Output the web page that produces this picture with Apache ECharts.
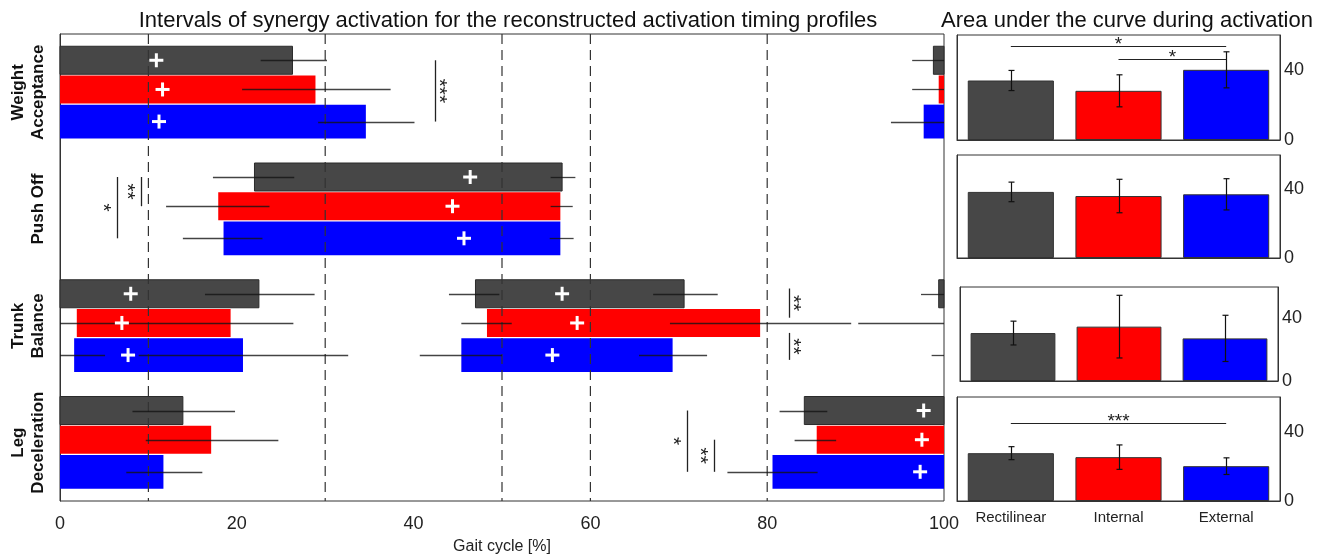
<!DOCTYPE html>
<html>
<head>
<meta charset="utf-8">
<script src="https://cdn.jsdelivr.net/npm/echarts@6/dist/echarts.min.js"></script>
<style>html,body{margin:0;padding:0;background:#fff}#c{width:1325px;height:560px}</style>
</head>
<body>
<div id="c"></div>
<script>
// ---------------- DATA ----------------
const groups = ['Weight\nAcceptance', 'Push Off', 'Trunk\nBalance', 'Leg\nDeceleration'];
const conditions = ['Rectilinear', 'Internal', 'External'];
const xTicks = [0, 20, 40, 60, 80, 100];
const dashedAt = [10, 30, 50, 60, 80];

// activation intervals [group, start %, end %]
const rectilinearBars = [[0,0,26.3],[0,98.8,100],[1,22.0,56.8],[2,0,22.5],[2,47.0,70.6],[2,99.4,100],[3,0,13.9],[3,84.2,100]];
const internalBars    = [[0,0,28.9],[0,99.4,100],[1,17.9,56.6],[2,1.9,19.3],[2,48.3,79.2],[3,0,17.1],[3,85.6,100]];
const externalBars    = [[0,0,34.6],[0,97.7,100],[1,18.5,56.6],[2,1.6,20.7],[2,45.4,69.3],[3,0,11.7],[3,80.6,100]];

// onset / offset variability lines [group, from %, to %]
const rectilinearErr = [[0,22.7,30.2],[0,96.4,100],[1,17.3,26.5],[1,55.5,58.3],[2,16.4,28.8],[2,44.0,49.7],[2,67.1,74.4],[2,97.4,100],[3,8.2,19.8],[3,81.4,86.8]];
const internalErr    = [[0,20.6,37.4],[0,96.4,100],[1,12.0,23.7],[1,55.5,58.0],[2,0,26.4],[2,45.4,51.1],[2,69.0,89.5],[2,90.3,100],[3,9.7,24.7],[3,83.1,87.8]];
const externalErr    = [[0,29.2,40.1],[0,94.0,100],[1,13.9,22.9],[1,55.4,58.1],[2,0,5.1],[2,8.9,32.6],[2,40.7,50.0],[2,65.5,73.2],[2,98.6,100],[3,7.5,16.1],[3,75.5,85.7]];

// centre-of-activity markers [group, %]
const rectilinearMarks = [[0,10.9],[1,46.4],[2,8.0],[2,56.8],[3,97.7]];
const internalMarks    = [[0,11.6],[1,44.4],[2,7.0],[2,58.5],[3,97.5]];
const externalMarks    = [[0,11.2],[1,45.7],[2,7.7],[2,55.7],[3,97.3]];

// significance in the timing plot [group, %, fromCondition, toCondition, label, side]
const timingSignif = [
  [0, 42.4, 0, 2, '***', 1],
  [1, 6.5, 0, 2, '*', -1],
  [1, 9.2, 0, 1, '**', -1],
  [2, 82.5, -0.18, 0.82, '**', 1],
  [2, 82.5, 1.31, 2.15, '**', 1],
  [3, 70.9, 0, 2, '*', -1],
  [3, 74.0, 1, 2, '**', -1]
];

// area under the curve (mean, sd) per synergy, order: Rectilinear, Internal, External
const aucWeightAcceptance = [34.0, 28.1, 40.1];
const sdWeightAcceptance  = [5.75, 9.15, 10.3];
const aucPushOff          = [38.5, 36.1, 37.1];
const sdPushOff           = [5.7, 9.75, 9.1];
const aucTrunkBalance     = [30.6, 34.7, 27.2];
const sdTrunkBalance      = [7.6, 20.0, 14.75];
const aucLegDeceleration  = [27.6, 25.3, 20.1];
const sdLegDeceleration   = [3.75, 7.05, 4.8];
const aucTicks = [0, 20, 40, 60];
const aucLabelled = [0, 40];
// significance in area panels [panel, fromCondition, toCondition, value, label]
const aucSignif = [[0, 0, 2, 53.8, '*'], [0, 1, 1.89, 46.2, '*'], [3, 0, 2, 45.0, '***']];

// ---------------- STYLE ----------------
const colors = ['#474747', '#ff0000', '#0000ff'];
const laneBox = [[0.105, 0.345], [0.355, 0.595], [0.605, 0.895]];
const FONT = 'Liberation Sans';
function laneFrac(l) { return l <= 1 ? 0.225 + l * 0.25 : 0.475 + (l - 1) * 0.275; }
function laneMidFrac(l) { return (laneBox[l][0] + laneBox[l][1]) / 2; }

const chart = echarts.init(document.getElementById('c'), null, {renderer: 'canvas'});

const panels = [
  {left: 957, top: 35, width: 323, height: 105},
  {left: 957, top: 155, width: 323, height: 103},
  {left: 960, top: 287, width: 318, height: 94},
  {left: 957, top: 397, width: 323, height: 104}
];
const aucMeans = [aucWeightAcceptance, aucPushOff, aucTrunkBalance, aucLegDeceleration];
const aucSds = [sdWeightAcceptance, sdPushOff, sdTrunkBalance, sdLegDeceleration];

const grids = [{left: 60, top: 34, width: 884, height: 468, show: true, borderColor: '#333', borderWidth: 1, containLabel: false}];
panels.forEach(p => grids.push(Object.assign({show: true, borderColor: '#333', borderWidth: 1}, p)));

const xAxes = [
  {type: 'value', gridIndex: 0, min: 0, max: 100, interval: 10, position: 'bottom',
   axisLine: {lineStyle: {color: '#333'}}, axisTick: {inside: true, length: 8, lineStyle: {color: '#333'}},
   splitLine: {show: false},
   axisLabel: {fontFamily: FONT, fontSize: 18, color: '#222', margin: 14, formatter: v => xTicks.indexOf(v) >= 0 ? String(v) : ''},
   name: 'Gait cycle [%]', nameLocation: 'middle', nameGap: 38, nameTextStyle: {fontFamily: FONT, fontSize: 16, color: '#222'}},
  {type: 'value', gridIndex: 0, min: 0, max: 100, interval: 10, position: 'top',
   axisLine: {lineStyle: {color: '#333'}}, axisTick: {inside: true, length: 8, lineStyle: {color: '#333'}},
   splitLine: {show: false}, axisLabel: {show: false}}
];
panels.forEach((p, i) => xAxes.push({
  type: 'category', gridIndex: i + 1, data: conditions,
  axisLine: {lineStyle: {color: '#333'}}, axisTick: {show: false},
  axisLabel: {show: i === 3, interval: 0, fontFamily: FONT, fontSize: 15, color: '#222', margin: 9}
}));

const yAxes = [{
  type: 'category', gridIndex: 0, data: groups, inverse: true,
  axisLine: {lineStyle: {color: '#333'}}, axisTick: {show: false},
  axisLabel: {interval: 0, rotate: 90, fontFamily: FONT, fontWeight: 'bold', fontSize: 17, lineHeight: 20, color: '#111', margin: 12}
}];
panels.forEach((p, i) => yAxes.push({
  type: 'value', gridIndex: i + 1, position: 'right', min: 0, max: 60, interval: 20,
  axisLine: {show: true, lineStyle: {color: '#333'}}, axisTick: {inside: true, length: 5, lineStyle: {color: '#333'}},
  splitLine: {show: false},
  axisLabel: {fontFamily: FONT, fontSize: 18, color: '#222', margin: 4, formatter: v => aucLabelled.indexOf(v) >= 0 ? String(v) : ''}
}));
panels.forEach((p, i) => yAxes.push({
  type: 'value', gridIndex: i + 1, position: 'left', min: 0, max: 60, interval: 20,
  axisLine: {show: true, lineStyle: {color: '#333'}}, axisTick: {inside: true, length: 5, lineStyle: {color: '#333'}},
  splitLine: {show: false}, axisLabel: {show: false}
}));

const series = [];
const barSets = [rectilinearBars, internalBars, externalBars];
const errSets = [rectilinearErr, internalErr, externalErr];
const markSets = [rectilinearMarks, internalMarks, externalMarks];

barSets.forEach((set, lane) => series.push({
  type: 'custom', name: conditions[lane], xAxisIndex: 0, yAxisIndex: 0, z: 2,
  encode: {x: [1, 2], y: 0}, data: set,
  renderItem: (params, api) => {
    const g = api.value(0);
    const p0 = api.coord([api.value(1), g]);
    const p1 = api.coord([api.value(2), g]);
    const band = api.size([0, 1])[1];
    const top = p0[1] - band / 2 + band * laneBox[lane][0];
    return {type: 'rect', shape: {x: p0[0], y: top, width: p1[0] - p0[0], height: band * (laneBox[lane][1] - laneBox[lane][0])},
      style: {fill: colors[lane], stroke: lane === 0 ? '#2b2b2b' : null, lineWidth: 1}};
  }
}));

series.push({
  type: 'custom', xAxisIndex: 0, yAxisIndex: 0, z: 3,
  encode: {x: 0, y: 1}, data: dashedAt.map(v => [v, 0]),
  renderItem: (params, api) => {
    const cs = params.coordSys;
    const x = api.coord([api.value(0), 0])[0];
    return {type: 'line', shape: {x1: x, y1: cs.y, x2: x, y2: cs.y + cs.height},
      style: {stroke: '#333', lineWidth: 1.2, lineDash: [10, 6]}};
  }
});

errSets.forEach((set, lane) => series.push({
  type: 'custom', xAxisIndex: 0, yAxisIndex: 0, z: 4,
  encode: {x: [1, 2], y: 0}, data: set,
  renderItem: (params, api) => {
    const g = api.value(0);
    const p0 = api.coord([api.value(1), g]);
    const p1 = api.coord([api.value(2), g]);
    const band = api.size([0, 1])[1];
    const y = Math.round(p0[1] - band / 2 + band * laneMidFrac(lane)) + 0.5;
    return {type: 'line', shape: {x1: p0[0], y1: y, x2: p1[0], y2: y},
      style: {stroke: 'rgba(20,20,20,0.8)', lineWidth: 1.3}};
  }
}));

markSets.forEach((set, lane) => series.push({
  type: 'custom', xAxisIndex: 0, yAxisIndex: 0, z: 6,
  encode: {x: 1, y: 0}, data: set,
  renderItem: (params, api) => {
    const g = api.value(0);
    const p = api.coord([api.value(1), g]);
    const band = api.size([0, 1])[1];
    const y = p[1] - band / 2 + band * laneMidFrac(lane);
    const h = 7;
    return {type: 'group', children: [
      {type: 'line', shape: {x1: p[0] - h, y1: y, x2: p[0] + h, y2: y}, style: {stroke: '#fff', lineWidth: 3}},
      {type: 'line', shape: {x1: p[0], y1: y - h, x2: p[0], y2: y + h}, style: {stroke: '#fff', lineWidth: 3}}
    ]};
  }
}));

series.push({
  type: 'custom', xAxisIndex: 0, yAxisIndex: 0, z: 7,
  encode: {x: 1, y: 0}, data: timingSignif.map(d => [d[0], d[1], d[2], d[3]]),
  renderItem: (params, api) => {
    const d = timingSignif[params.dataIndex];
    const p = api.coord([d[1], d[0]]);
    const band = api.size([0, 1])[1];
    const base = p[1] - band / 2;
    const y1 = base + band * laneFrac(d[2]);
    const y2 = base + band * laneFrac(d[3]);
    const x = Math.round(p[0]) + 0.5;
    return {type: 'group', children: [
      {type: 'line', shape: {x1: x, y1: y1, x2: x, y2: y2}, style: {stroke: '#222', lineWidth: 1.3}},
      {type: 'text', x: x + d[5] * 9 - 6, y: (y1 + y2) / 2, rotation: -Math.PI / 2,
       style: {text: d[4], fontFamily: FONT, fontSize: 21, fill: '#222', align: 'center', verticalAlign: 'middle'}}
    ]};
  }
});

// area panels
panels.forEach((p, i) => {
  series.push({
    type: 'bar', xAxisIndex: i + 2, yAxisIndex: i + 1, barWidth: '80%', z: 2,
    data: aucMeans[i].map((v, k) => ({value: v, itemStyle: {color: colors[k], borderColor: '#333', borderWidth: 1}}))
  });
  series.push({
    type: 'custom', xAxisIndex: i + 2, yAxisIndex: i + 1, z: 4,
    encode: {x: 0, y: [1, 2]},
    data: aucMeans[i].map((v, k) => [k, v - aucSds[i][k], v + aucSds[i][k]]),
    renderItem: (params, api) => {
      const lo = api.coord([api.value(0), api.value(1)]);
      const hi = api.coord([api.value(0), api.value(2)]);
      const x = Math.round(lo[0]) + 0.5, c = 3;
      const st = {stroke: '#111', lineWidth: 1.2};
      return {type: 'group', children: [
        {type: 'line', shape: {x1: x, y1: lo[1], x2: x, y2: hi[1]}, style: st},
        {type: 'line', shape: {x1: x - c, y1: lo[1], x2: x + c, y2: lo[1]}, style: st},
        {type: 'line', shape: {x1: x - c, y1: hi[1], x2: x + c, y2: hi[1]}, style: st}
      ]};
    }
  });
  const sig = aucSignif.filter(s => s[0] === i);
  if (sig.length) series.push({
    type: 'custom', xAxisIndex: i + 2, yAxisIndex: i + 1, z: 5,
    encode: {x: [0, 1], y: 2}, data: sig.map(s => [s[1], s[2], s[3]]),
    renderItem: (params, api) => {
      const s = sig[params.dataIndex];
      const a = api.coord([s[1], s[3]]);
      const b = api.coord([s[2], s[3]]);
      const y = Math.round(a[1]) + 0.5;
      return {type: 'group', children: [
        {type: 'line', shape: {x1: a[0], y1: y, x2: b[0], y2: y}, style: {stroke: '#222', lineWidth: 1.2}},
        {type: 'text', x: (a[0] + b[0]) / 2, y: y - 1.5,
         style: {text: s[4], fontFamily: FONT, fontSize: 19, fill: '#222', align: 'center', verticalAlign: 'middle'}}
      ]};
    }
  });
});

chart.setOption({
  animation: false,
  backgroundColor: '#fff',
  title: [
    {text: 'Intervals of synergy activation for the reconstructed activation timing profiles', left: 503, top: 5, textAlign: 'center',
     textStyle: {fontFamily: FONT, fontSize: 22, fontWeight: 'normal', color: '#111'}},
    {text: 'Area under the curve during activation', left: 1122, top: 5, textAlign: 'center',
     textStyle: {fontFamily: FONT, fontSize: 22, fontWeight: 'normal', color: '#111'}}
  ],
  grid: grids, xAxis: xAxes, yAxis: yAxes, series: series
});
</script>
</body>
</html>
